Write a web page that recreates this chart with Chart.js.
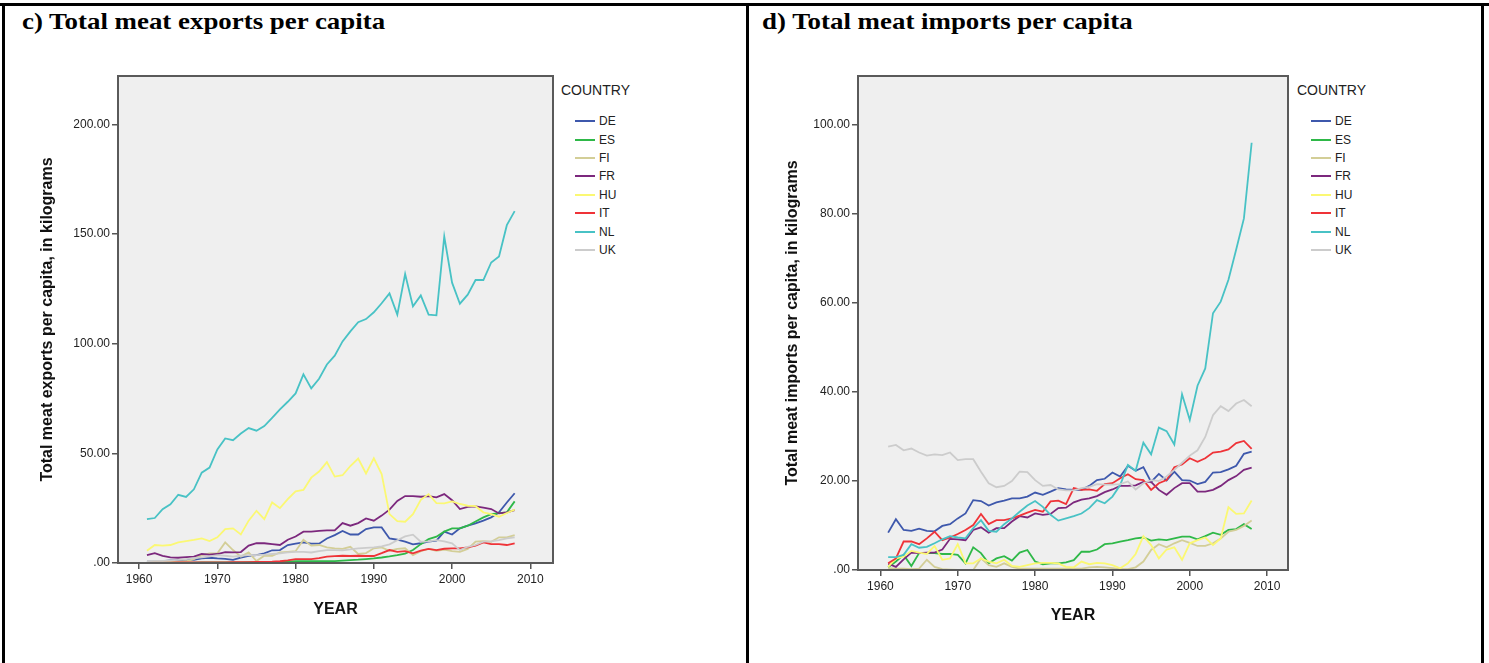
<!DOCTYPE html>
<html>
<head>
<meta charset="utf-8">
<script src="https://cdn.jsdelivr.net/npm/chart.js@4.4.1/dist/chart.umd.min.js"></script>
<style>
  body { margin: 0; background: #fff; }
  #page { position: relative; width: 1489px; height: 663px; overflow: hidden; background: #fff; }
  .rule { position: absolute; background: #000; }
  .panel-title { position: absolute; top: 8px; font-family: "Liberation Serif", "Times New Roman", serif; font-weight: bold; font-size: 24px; color: #000; white-space: nowrap; transform: scaleX(1.12); transform-origin: left top; }
  canvas { position: absolute; }
  .legend { position: absolute; top: 82px; font-family: Arial, "Liberation Sans", sans-serif; color: #222; }
  .legend .head { font-size: 14px; margin-bottom: 14px; }
  .legend .row { height: 18.4px; display: flex; align-items: center; font-size: 12px; margin-left: 14px; }
  .legend .swatch { width: 20px; height: 2px; margin-right: 4px; }
</style>
</head>
<body>
<div id="page">
  <div class="rule" style="left:0;top:3px;width:1489px;height:3px"></div>
  <div class="rule" style="left:2px;top:3px;width:3px;height:660px"></div>
  <div class="rule" style="left:746px;top:3px;width:3px;height:660px"></div>
  <div class="rule" style="left:1481px;top:3px;width:3px;height:660px"></div>

  <div class="panel-title" style="left:22px">c) Total meat exports per capita</div>
  <div class="panel-title" style="left:762px">d) Total meat imports per capita</div>

  <canvas id="exportChart" width="560" height="590" style="left:0;top:60px"></canvas>
  <canvas id="importChart" width="545" height="590" style="left:752px;top:60px"></canvas>

  <div class="legend" id="exportLegend" style="left:561px"></div>
  <div class="legend" id="importLegend" style="left:1297px"></div>
</div>

<script>
// 年份与国家
const years = [1961, 1962, 1963, 1964, 1965, 1966, 1967, 1968, 1969, 1970,
               1971, 1972, 1973, 1974, 1975, 1976, 1977, 1978, 1979, 1980,
               1981, 1982, 1983, 1984, 1985, 1986, 1987, 1988, 1989, 1990,
               1991, 1992, 1993, 1994, 1995, 1996, 1997, 1998, 1999, 2000,
               2001, 2002, 2003, 2004, 2005, 2006, 2007, 2008];
const countries = ['DE', 'ES', 'FI', 'FR', 'HU', 'IT', 'NL', 'UK'];
const countryColors = ['#3E58AC', '#2EB848', '#D3CE97', '#7C287D', '#FBF873', '#EF3338', '#48C2C5', '#CCCCCC'];

const xTicks = [1960, 1970, 1980, 1990, 2000, 2010];
const exportTicks = [0, 50, 100, 150, 200];
const importTicks = [0, 20, 40, 60, 80, 100];

// c) 出口 (kg / capita)
const exportDE = [0.6, 0.6, 0.9, 1.2, 1.2, 1.4, 1.4, 2.1, 2.4, 2.1,
                  1.9, 1.4, 2.4, 3.2, 3.6, 4.4, 5.8, 5.9, 8.2, 8.8,
                  9.4, 8.8, 8.8, 11.2, 12.7, 14.6, 13.0, 13.0, 15.5, 16.2,
                  16.2, 11.2, 10.6, 9.7, 8.5, 9.0, 9.7, 10.2, 14.3, 13.0,
                  15.8, 17.0, 18.1, 19.3, 20.8, 23.1, 27.6, 31.8];
const exportES = [0.1, 0.1, 0.1, 0.2, 0.2, 0.2, 0.2, 0.3, 0.3, 0.3,
                  0.3, 0.3, 0.3, 0.4, 0.4, 0.4, 0.5, 0.5, 0.6, 0.9,
                  0.9, 0.9, 0.9, 0.9, 0.9, 1.1, 1.3, 1.5, 1.8, 2.1,
                  2.5, 3.0, 3.6, 4.3, 5.9, 8.6, 10.9, 12.0, 14.3, 15.8,
                  15.8, 17.0, 18.9, 20.8, 22.3, 22.7, 23.1, 28.1];
const exportFI = [0.5, 0.5, 0.5, 0.6, 0.6, 0.8, 1.8, 3.6, 4.4, 4.4,
                  9.4, 5.9, 2.9, 4.8, 0.9, 3.3, 3.3, 4.8, 5.1, 5.4,
                  10.6, 7.9, 8.2, 7.1, 6.7, 6.4, 7.4, 4.1, 4.5, 6.7,
                  7.1, 5.6, 6.4, 6.7, 3.6, 5.4, 6.4, 5.6, 6.1, 5.4,
                  5.1, 6.4, 9.7, 10.0, 9.7, 11.7, 11.7, 12.7];
const exportFR = [3.6, 4.5, 3.3, 2.6, 2.4, 2.7, 2.9, 4.1, 3.8, 4.1,
                  5.0, 4.8, 5.0, 7.9, 9.0, 9.0, 8.6, 8.2, 10.6, 12.1,
                  14.3, 14.3, 14.6, 14.9, 14.9, 18.2, 17.0, 18.2, 20.3, 19.3,
                  21.6, 24.3, 28.3, 30.5, 30.5, 30.2, 30.5, 29.9, 31.4, 28.6,
                  24.6, 25.6, 25.8, 25.2, 24.6, 22.6, 23.1, 24.1];
const exportHU = [5.6, 8.2, 7.9, 8.2, 9.4, 10.0, 10.5, 11.2, 10.0, 11.7,
                  15.4, 15.8, 13.0, 19.3, 23.8, 20.0, 27.6, 25.0, 29.1, 32.7,
                  33.3, 38.9, 41.7, 46.0, 39.4, 40.0, 44.2, 47.6, 40.8, 47.7,
                  40.5, 22.3, 19.1, 18.8, 22.3, 28.8, 31.4, 27.3, 27.2, 28.1,
                  26.9, 26.1, 25.9, 23.1, 22.3, 21.1, 22.8, 24.3];
const exportIT = [0.2, 0.2, 0.2, 0.2, 0.3, 0.3, 0.3, 0.3, 0.3, 0.3,
                  0.3, 0.4, 0.4, 0.4, 0.5, 0.5, 0.6, 0.8, 1.2, 1.8,
                  1.8, 1.8, 2.2, 2.9, 3.1, 3.3, 3.2, 3.3, 3.2, 3.2,
                  4.5, 5.9, 5.1, 5.4, 4.4, 5.6, 6.4, 5.9, 6.5, 6.7,
                  6.7, 7.1, 7.9, 9.4, 8.6, 8.6, 8.2, 8.9];
const exportNL = [20.0, 20.5, 24.5, 26.8, 31.1, 30.1, 33.6, 41.2, 43.5, 51.8,
                  56.8, 56.0, 59.0, 61.5, 60.3, 62.4, 66.2, 70.0, 73.5, 77.3,
                  86.0, 79.6, 84.0, 90.5, 94.5, 101.0, 105.6, 109.8, 111.2, 114.3,
                  118.4, 122.9, 113.2, 131.7, 117.0, 122.0, 113.2, 112.9, 148.8, 127.8,
                  118.2, 122.3, 129.0, 129.0, 137.0, 139.7, 154.0, 160.4];
const exportUK = [0.9, 1.0, 1.0, 1.2, 1.4, 1.8, 2.2, 2.6, 3.0, 3.6,
                  3.3, 2.9, 3.3, 3.6, 3.6, 3.8, 4.1, 4.4, 4.8, 5.1,
                  5.1, 4.8, 5.4, 5.9, 5.9, 5.8, 6.2, 6.7, 6.9, 7.1,
                  7.6, 8.5, 10.4, 12.1, 12.9, 9.7, 9.9, 10.4, 9.9, 9.0,
                  5.9, 7.4, 8.2, 9.7, 9.9, 10.4, 11.2, 11.7];

// d) 进口 (kg / capita)
const importDE = [8.4, 11.4, 9.0, 8.8, 9.3, 8.8, 8.7, 9.9, 10.3, 11.6,
                  12.7, 15.7, 15.5, 14.5, 15.2, 15.6, 16.1, 16.1, 16.5, 17.4,
                  16.9, 17.6, 18.4, 18.1, 18.0, 18.0, 18.9, 20.2, 20.5, 21.9,
                  21.0, 23.4, 22.3, 23.1, 19.8, 21.6, 20.1, 22.1, 20.2, 20.1,
                  19.3, 19.8, 21.9, 22.0, 22.6, 23.4, 26.1, 26.6];
const importES = [0.6, 1.9, 3.4, 0.9, 3.8, 3.8, 3.8, 3.6, 3.6, 3.4,
                  1.5, 5.1, 3.8, 1.5, 2.6, 3.1, 2.1, 3.9, 4.5, 1.9,
                  1.3, 1.5, 1.5, 1.7, 2.2, 4.1, 4.1, 4.6, 5.8, 6.0,
                  6.4, 6.7, 7.1, 7.3, 6.6, 6.9, 6.7, 7.1, 7.5, 7.5,
                  6.9, 7.6, 8.4, 7.9, 9.0, 9.2, 10.3, 9.2];
const importFI = [0.4, 0.3, 0.3, 0.2, 0.3, 2.3, 0.7, 0.2, 0.1, 0.0,
                  0.0, 0.0, 2.6, 1.1, 0.7, 1.5, 0.7, 0.3, 0.3, 0.3,
                  0.3, 0.3, 0.3, 0.3, 0.3, 0.3, 0.6, 0.7, 0.6, 0.4,
                  0.2, 0.2, 0.6, 1.9, 4.5, 5.8, 5.1, 6.0, 6.7, 6.1,
                  5.4, 5.4, 6.0, 7.1, 8.6, 9.0, 9.9, 11.1];
const importFR = [1.4, 0.7, 2.4, 3.9, 3.8, 3.9, 3.9, 4.6, 7.0, 6.9,
                  6.7, 9.0, 9.6, 8.4, 9.4, 9.4, 10.9, 12.1, 11.8, 12.7,
                  12.4, 12.6, 13.9, 14.0, 15.2, 15.8, 16.1, 16.6, 17.5, 18.1,
                  18.9, 18.9, 19.0, 19.8, 19.8, 18.0, 16.9, 18.4, 19.5, 19.5,
                  17.6, 17.6, 18.0, 18.9, 20.2, 21.1, 22.5, 23.0];
const importHU = [0.7, 2.6, 3.0, 4.3, 3.9, 3.6, 5.4, 2.3, 2.6, 5.8,
                  1.5, 1.5, 2.6, 1.9, 1.5, 2.3, 0.9, 0.7, 1.1, 1.5,
                  1.6, 1.6, 1.5, 0.7, 0.6, 1.9, 1.3, 1.6, 1.5, 1.1,
                  0.4, 1.5, 3.6, 7.6, 5.6, 2.6, 4.6, 5.1, 2.3, 6.0,
                  6.7, 7.3, 5.6, 7.1, 14.1, 12.6, 12.7, 15.6];
const importIT = [1.5, 2.6, 6.4, 6.4, 5.8, 7.1, 8.6, 6.7, 7.3, 8.1,
                  9.0, 10.1, 12.6, 10.3, 11.2, 11.2, 11.6, 12.2, 12.9, 13.5,
                  13.1, 15.4, 15.6, 14.8, 18.4, 18.0, 18.1, 17.8, 19.3, 19.5,
                  20.6, 21.5, 20.4, 20.2, 18.0, 19.5, 20.2, 23.1, 23.7, 25.1,
                  24.3, 25.1, 26.4, 26.6, 27.1, 28.5, 29.0, 27.2];
const importNL = [2.9, 2.9, 3.4, 5.8, 5.0, 5.2, 6.0, 6.9, 7.6, 7.3,
                  7.1, 9.4, 11.2, 8.8, 8.6, 10.3, 11.6, 13.1, 14.5, 15.5,
                  14.2, 12.4, 11.1, 11.6, 12.1, 12.7, 13.9, 15.7, 15.0, 16.5,
                  19.1, 23.6, 22.3, 28.6, 26.0, 32.0, 31.2, 28.2, 39.5, 33.7,
                  41.4, 45.3, 57.7, 60.3, 65.2, 72.0, 79.0, 96.0];
const importUK = [27.7, 28.1, 26.9, 27.3, 26.4, 25.7, 26.0, 25.8, 26.4, 24.7,
                  24.9, 24.9, 22.1, 19.5, 18.6, 18.9, 20.0, 22.1, 22.0, 20.2,
                  18.9, 19.1, 18.1, 17.9, 17.9, 18.4, 18.7, 19.3, 19.2, 19.2,
                  19.3, 19.9, 18.1, 19.5, 20.2, 20.0, 21.0, 22.5, 24.1, 25.7,
                  26.9, 29.9, 34.8, 36.8, 35.7, 37.4, 38.2, 36.8];

const exportSeries = [exportDE, exportES, exportFI, exportFR, exportHU, exportIT, exportNL, exportUK];
const importSeries = [importDE, importES, importFI, importFR, importHU, importIT, importNL, importUK];

Chart.defaults.font.family = 'Arial, "Liberation Sans", sans-serif';
Chart.defaults.color = '#222';

// 绘图区背景与边框
const plotFrame = {
    id: 'plotFrame',
    beforeDraw(chart) {
        const a = chart.chartArea;
        const ctx = chart.ctx;
        ctx.save();
        ctx.fillStyle = '#EFEFEF';
        ctx.fillRect(a.left, a.top, a.right - a.left, a.bottom - a.top);
        ctx.restore();
    },
    afterDraw(chart) {
        const a = chart.chartArea;
        const ctx = chart.ctx;
        ctx.save();
        ctx.strokeStyle = '#5A5A5A';
        ctx.lineWidth = 2;
        ctx.strokeRect(a.left, a.top, a.right - a.left, a.bottom - a.top);
        ctx.restore();
    }
};

function fmtTick(v) {
    return v === 0 ? '.00' : v.toFixed(2);
}

function buildDatasets(series) {
    return series.map((values, i) => ({
        label: countries[i],
        data: values.map((v, j) => ({ x: years[j], y: v })),
        borderColor: countryColors[i],
        borderWidth: 1.8,
        pointRadius: 0,
        tension: 0,
        fill: false,
        order: series.length - i
    }));
}

function makeChart(canvasId, series, yTicks, cfg) {
    return new Chart(document.getElementById(canvasId), {
        type: 'line',
        data: { datasets: buildDatasets(series) },
        plugins: [plotFrame],
        options: {
            responsive: false,
            animation: false,
            layout: { padding: { left: 0, top: 16, right: cfg.padRight, bottom: 0 } },
            plugins: {
                legend: { display: false },
                tooltip: { enabled: false }
            },
            scales: {
                x: {
                    type: 'linear',
                    min: cfg.xMin,
                    max: cfg.xMax,
                    afterBuildTicks: s => { s.ticks = xTicks.map(v => ({ value: v })); },
                    afterFit: s => { s.height = cfg.xHeight; },
                    grid: { drawOnChartArea: false, drawTicks: true, tickLength: 6, color: '#555', lineWidth: 1.5 },
                    border: { display: false },
                    ticks: { font: { size: 12 }, color: '#222', padding: 3, maxRotation: 0, callback: v => String(v) },
                    title: { display: true, text: 'YEAR', font: { size: 16, weight: 'bold' }, color: '#111', padding: { top: 0, bottom: cfg.xTitlePad } }
                },
                y: {
                    type: 'linear',
                    min: 0,
                    max: cfg.yMax,
                    afterBuildTicks: s => { s.ticks = yTicks.map(v => ({ value: v })); },
                    afterFit: s => { s.width = cfg.yWidth; },
                    grid: { drawOnChartArea: false, drawTicks: true, tickLength: 6, color: '#555', lineWidth: 1.5 },
                    border: { display: false },
                    ticks: { font: { size: 12 }, color: '#222', padding: 2, callback: fmtTick },
                    title: { display: true, text: cfg.yTitle, font: { size: 16, weight: 'bold' }, color: '#111', padding: { top: cfg.yTitlePad, bottom: 0 } }
                }
            }
        }
    });
}

// HTML 图例
function buildLegend(id) {
    const box = document.getElementById(id);
    let html = '<div class="head">COUNTRY</div>';
    countries.forEach((c, i) => {
        html += '<div class="row"><span class="swatch" style="background:' + countryColors[i] + '"></span>' + c + '</div>';
    });
    box.innerHTML = html;
}

makeChart('exportChart', exportSeries, exportTicks, {
    xMin: 1957.3, xMax: 2012.9, yMax: 222,
    padRight: 7, xHeight: 87, yWidth: 118,
    xTitlePad: 31, yTitlePad: 38,
    yTitle: 'Total meat exports per capita, in kilograms'
});

makeChart('importChart', importSeries, importTicks, {
    xMin: 1957.1, xMax: 2012.7, yMax: 111,
    padRight: 9, xHeight: 80, yWidth: 106,
    xTitlePad: 25, yTitlePad: 31,
    yTitle: 'Total meat imports per capita, in kilograms'
});

buildLegend('exportLegend');
buildLegend('importLegend');
</script>
</body>
</html>
